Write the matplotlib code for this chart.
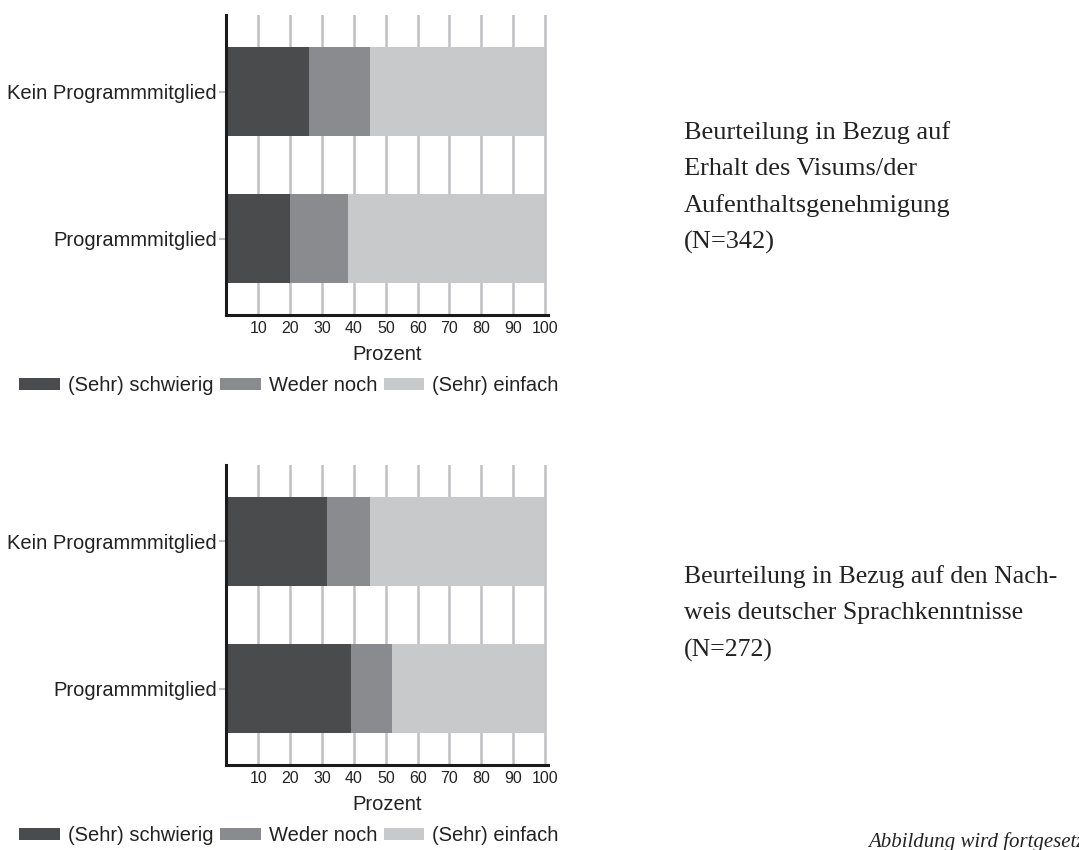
import matplotlib.pyplot as plt
import numpy as np

# data (percent)
gruppen = ["Programmmitglied", "Kein Programmmitglied"]
kategorien = ["(Sehr) schwierig", "Weder noch", "(Sehr) einfach"]

visum_schwierig = [20, 26]
visum_weder = [18, 19]
visum_einfach = [62, 55]

sprache_schwierig = [39, 31.5]
sprache_weder = [13, 13.5]
sprache_einfach = [48, 55]

farben = ["#4a4b4d", "#8a8b8e", "#c8c9cb"]
x_ticks = [10, 20, 30, 40, 50, 60, 70, 80, 90, 100]

titel_oben = "Beurteilung in Bezug auf\nErhalt des Visums/der\nAufenthaltsgenehmigung\n(N=342)"
titel_unten = "Beurteilung in Bezug auf den Nach-\nweis deutscher Sprachkenntnisse\n(N=272)"

plt.rcParams['font.family'] = ['Liberation Sans', 'DejaVu Sans']
serif = ['Liberation Serif', 'DejaVu Serif']

fig = plt.figure(figsize=(10.79, 8.5), dpi=100)


def balken(ax, werte):
    y = np.arange(1, len(gruppen) + 1)
    links = np.zeros(len(gruppen))
    for w, f, k in zip(werte, farben, kategorien):
        ax.barh(y, w, left=links, height=0.6, color=f, label=k, zorder=2)
        links = links + np.array(w)
    ax.set_xlim(0, 101)
    ax.set_ylim(0.48, 2.52)
    ax.set_yticks(y)
    ax.set_yticklabels(gruppen, fontsize=14.5, color="#222222")
    ax.set_xticks(x_ticks)
    ax.set_xticklabels([str(t) for t in x_ticks], fontsize=11.5, color="#222222")
    ax.tick_params(axis='x', length=0, pad=4)
    ax.tick_params(axis='y', length=5, width=1.5, color="#c0c0c4", pad=2)
    ax.grid(axis='x', color="#c0c0c4", linewidth=1.8, zorder=0)
    ax.set_axisbelow(True)
    for s in ['top', 'right']:
        ax.spines[s].set_visible(False)
    for s in ['left', 'bottom']:
        ax.spines[s].set_linewidth(2.2)
        ax.spines[s].set_color("#1a1a1a")
    ax.set_xlabel("Prozent", fontsize=14.5, labelpad=7, color="#222222")


ax1 = fig.add_axes([0.2099, 0.6294, 0.2982, 0.3529])
balken(ax1, [visum_schwierig, visum_weder, visum_einfach])
ax2 = fig.add_axes([0.2099, 0.1, 0.2982, 0.3529])
balken(ax2, [sprache_schwierig, sprache_weder, sprache_einfach])

for ax, y in [(ax1, 0.546), (ax2, 0.017)]:
    h, l = ax.get_legend_handles_labels()
    fig.legend(h, l, loc='center left', bbox_to_anchor=(0.018, y), ncol=3,
               frameon=False, fontsize=14.5, handlelength=2.0, handleheight=0.55,
               handletextpad=0.4, columnspacing=0.35, borderpad=0, borderaxespad=0,
               labelcolor="#222222")

fig.text(0.634, 0.779, titel_oben, fontsize=19, family=serif,
         va='center', ha='left', linespacing=1.8, color="#222222")
fig.text(0.634, 0.278, titel_unten, fontsize=18.5, family=serif,
         va='center', ha='left', linespacing=1.85, color="#222222")
fig.text(0.8045, 0.004, "Abbildung wird fortgesetzt", fontsize=15, style='italic',
         family=serif, ha='left', va='baseline', color="#222222")

fig.savefig("out.png", dpi=100)
